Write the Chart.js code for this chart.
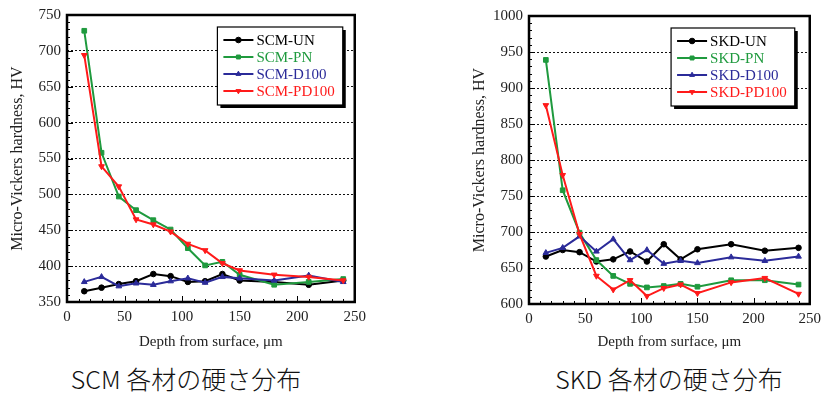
<!DOCTYPE html>
<html>
<head>
<meta charset="utf-8">
<script src="https://cdn.jsdelivr.net/npm/chart.js@4.4.0/dist/chart.umd.min.js"></script>
<style>
    body { margin: 0; background: #fff; width: 827px; height: 394px; overflow: hidden; position: relative; }
    .chart-box { position: absolute; top: 0; width: 372px; height: 352px; }
    .caption { position: absolute; top: 360px; transform: translateX(-50%); white-space: nowrap;
               font-family: "Noto Sans CJK JP"; font-weight: 300; font-size: 25px; color: #111; }
</style>
</head>
<body>
<div class="chart-box" style="left:0"><canvas id="chartSCM" width="372" height="352"></canvas></div>
<div class="chart-box" style="left:455px"><canvas id="chartSKD" width="372" height="352"></canvas></div>
<div class="caption" style="left:186px">SCM 各材の硬さ分布</div>
<div class="caption" style="left:669px">SKD 各材の硬さ分布</div>
<script>
// depth from surface, um
const depth = [15, 30, 45, 60, 75, 90, 105, 120, 135, 150, 180, 210, 240];

// SCM
const scmLabels = ['SCM-UN', 'SCM-PN', 'SCM-D100', 'SCM-PD100'];
const scmUN    = [365, 370, 375, 379, 389, 386, 378, 379, 389, 380, 378, 374, 380];
const scmPN    = [728, 558, 497, 478, 464, 451, 425, 401, 406, 388, 374, 378, 382];
const scmD100  = [378, 385, 372, 376, 374, 379, 383, 377, 385, 383, 380, 387, 378];
const scmPD100 = [694, 539, 511, 465, 458, 448, 431, 422, 404, 394, 388, 385, 380];

// SKD
const skdLabels = ['SKD-UN', 'SKD-PN', 'SKD-D100', 'SKD-PD100'];
const skdUN    = [666, 675, 672, 659, 662, 673, 659, 683, 662, 676, 683, 674, 678];
const skdPN    = [939, 758, 699, 661, 639, 628, 623, 625, 628, 624, 633, 633, 627];
const skdD100  = [671, 678, 694, 673, 690, 661, 675, 656, 660, 657, 665, 660, 666];
const skdPD100 = [876, 779, 697, 639, 620, 633, 611, 622, 627, 615, 630, 636, 614];

const xTicks = [0, 250];
const scmRange = [350, 750];
const skdRange = [600, 1000];

// styles
const colors = ['#000000', '#1f9a3e', '#2b2b99', '#ff1a1a'];
const markers = ['circle', 'rect', 'triangle', 'triangle'];
const markerRot = [0, 0, 0, 180];
const serif = "'Liberation Serif', serif";

Chart.defaults.font.family = serif;
Chart.defaults.font.size = 15;
Chart.defaults.color = '#222';

// inward tick marks + heavy frame
const frameTicks = {
    id: 'frameTicks',
    beforeDatasetsDraw(chart) {
        const {ctx, chartArea: a, scales: {x, y}} = chart;
        ctx.save();
        ctx.strokeStyle = '#000';
        ctx.lineWidth = 1;
        ctx.beginPath();
        for (let v = x.min; v <= x.max; v += 10) {
            const px = Math.round(x.getPixelForValue(v)) + 0.5;
            const len = v % 50 === 0 ? 6 : 3;
            ctx.moveTo(px, a.bottom);
            ctx.lineTo(px, a.bottom - len);
        }
        for (let v = y.min; v <= y.max; v += 10) {
            const py = Math.round(y.getPixelForValue(v)) + 0.5;
            const len = v % 50 === 0 ? 6 : 3;
            ctx.moveTo(a.left, py);
            ctx.lineTo(a.left + len, py);
        }
        ctx.stroke();
        ctx.restore();
    },
    afterDraw(chart) {
        const {ctx, chartArea: a} = chart;
        ctx.save();
        ctx.strokeStyle = '#000';
        ctx.lineWidth = 2.5;
        ctx.strokeRect(a.left, a.top, a.right - a.left, a.bottom - a.top);
        ctx.restore();
    }
};

// boxed legend with drop shadow, inside the plot
const boxLegend = {
    id: 'boxLegend',
    afterDraw(chart, args, opts) {
        const {ctx, chartArea: a} = chart;
        const sets = chart.data.datasets;
        ctx.save();
        ctx.font = '15px ' + serif;
        const textW = Math.max(...sets.map(d => ctx.measureText(d.label).width));
        const w = 6 + 30 + 4 + textW + 7;
        const h = 10 + sets.length * 17;
        const bx = a.right - opts.right - w;
        const by = a.top + opts.top;
        ctx.fillStyle = '#000';
        ctx.fillRect(bx + 3, by + 3, w, h);
        ctx.fillStyle = '#fff';
        ctx.fillRect(bx, by, w, h);
        ctx.strokeStyle = '#000';
        ctx.lineWidth = 1.2;
        ctx.strokeRect(bx, by, w, h);
        sets.forEach((d, i) => {
            const cy = by + 13 + i * 17;
            ctx.strokeStyle = d.borderColor;
            ctx.fillStyle = d.borderColor;
            ctx.lineWidth = 2;
            ctx.beginPath();
            ctx.moveTo(bx + 6, cy);
            ctx.lineTo(bx + 36, cy);
            ctx.stroke();
            ctx.lineWidth = 1;
            Chart.helpers.drawPoint(ctx, {pointStyle: d.pointStyle, rotation: d.pointRotation,
                radius: 2.8, borderWidth: 1}, bx + 21, cy);
            ctx.fillStyle = d.borderColor;
            ctx.textBaseline = 'middle';
            ctx.textAlign = 'left';
            ctx.fillText(d.label, bx + 39, cy + 1);
        });
        ctx.restore();
    }
};

function makeChart(id, labels, series, range, axisW, axisH, pad, titlePad, legendPos) {
    const ctx = document.getElementById(id).getContext('2d');
    return new Chart(ctx, {
        type: 'line',
        data: {
            datasets: series.map((vals, i) => ({
                label: labels[i],
                data: depth.map((d, j) => ({x: d, y: vals[j]})),
                borderColor: colors[i],
                backgroundColor: colors[i],
                borderWidth: 2,
                pointStyle: markers[i],
                pointRotation: markerRot[i],
                pointRadius: i === 0 ? 2.8 : 3.3,
                pointBorderWidth: 1,
                tension: 0,
                order: 3 - i
            }))
        },
        options: {
            responsive: false,
            animation: false,
            layout: { padding: pad },
            plugins: {
                legend: { display: false },
                tooltip: { enabled: false },
                boxLegend: legendPos
            },
            scales: {
                x: {
                    type: 'linear',
                    min: xTicks[0],
                    max: xTicks[1],
                    afterFit(scale) { scale.height = axisH; },
                    grid: { display: false, drawTicks: false },
                    border: { display: false },
                    ticks: { stepSize: 50, padding: 6, font: { family: serif, size: 15 } },
                    title: { display: true, text: 'Depth from surface, μm',
                             padding: { top: 0, bottom: 1 }, font: { family: serif, size: 15 } }
                },
                y: {
                    min: range[0],
                    max: range[1],
                    afterFit(scale) { scale.width = axisW; },
                    grid: {
                        drawTicks: false,
                        lineWidth: 1,
                        color: c => (c.tick.value === range[0] || c.tick.value === range[1]) ? 'rgba(0,0,0,0)' : '#111'
                    },
                    border: { display: false, dash: [2, 2] },
                    ticks: { stepSize: 50, padding: 6, font: { family: serif, size: 15 },
                             callback: v => String(v) },
                    title: { display: true, text: 'Micro-Vickers hardness, HV',
                             padding: { top: titlePad, bottom: 0 }, font: { family: serif, size: 16 } }
                }
            }
        },
        plugins: [frameTicks, boxLegend]
    });
}

document.addEventListener('DOMContentLoaded', function() {
    makeChart('chartSCM', scmLabels, [scmUN, scmPN, scmD100, scmPD100], scmRange,
        67, 50, { top: 13, right: 15, left: 0, bottom: 0 }, 8, { right: 12, top: 12 });
    makeChart('chartSKD', skdLabels, [skdUN, skdPN, skdD100, skdPD100], skdRange,
        74, 48, { top: 16, right: 12, left: 0, bottom: 0 }, 15, { right: 15, top: 12 });
});
</script>
</body>
</html>
